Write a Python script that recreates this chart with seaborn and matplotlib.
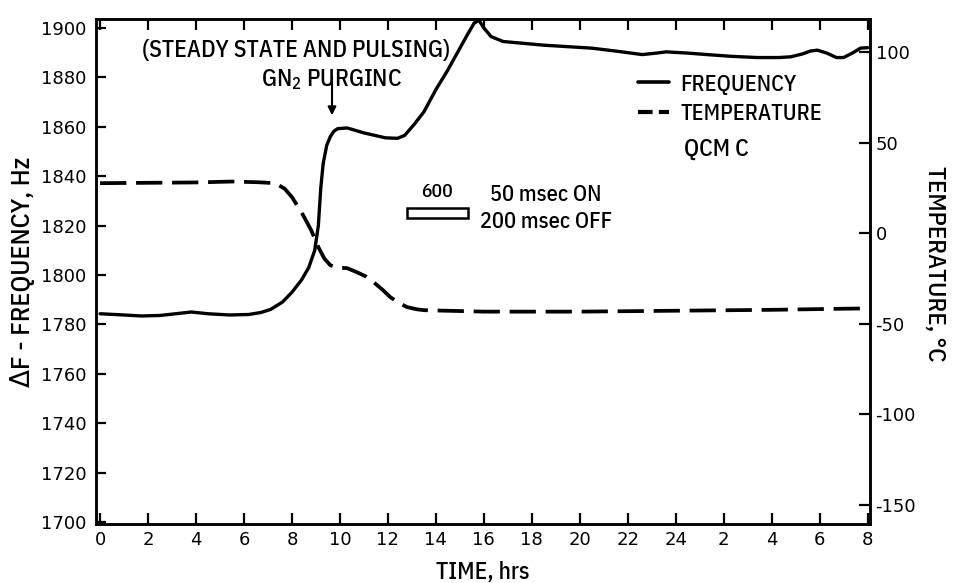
import matplotlib
matplotlib.use("Agg")
import matplotlib.pyplot as plt
from matplotlib.lines import Line2D
from matplotlib.patches import Rectangle
import seaborn as sns
import pandas as pd

# frequency trace (left axis, Hz)
time_freq = [0, 1, 1.7, 2.5, 3.8, 4.5, 5.4, 6.2, 6.7, 7.1, 7.6, 8.0, 8.4, 8.7,
             8.95, 9.1, 9.2, 9.3, 9.45, 9.6, 9.75, 9.9, 10.3, 11.0, 11.9, 12.4,
             12.7, 13.1, 13.5, 14.0, 14.5, 14.9, 15.3, 15.6, 15.8, 16.0, 16.3,
             16.8, 18.5, 20.5, 21.6, 22.6, 23.2, 23.6, 24.5, 25.3, 26.3, 27.4,
             28.3, 28.8, 29.3, 29.6, 29.9, 30.3, 30.7, 31.0, 31.4, 31.7, 32.0]
freq_hz = [1784.3, 1783.8, 1783.4, 1783.6, 1785.0, 1784.3, 1783.8, 1784.0,
           1784.8, 1786.0, 1789.0, 1793.0, 1798.0, 1803.0, 1810.0, 1820.0,
           1835.0, 1845.0, 1852.5, 1856.0, 1858.2, 1859.2, 1859.5, 1857.5,
           1855.5, 1855.3, 1856.5, 1861.0, 1866.0, 1875.0, 1883.0, 1890.0,
           1897.0, 1902.0, 1903.0, 1900.0, 1896.5, 1894.5, 1893.0, 1891.8,
           1890.5, 1889.2, 1889.8, 1890.3, 1889.8, 1889.2, 1888.5, 1888.0,
           1888.0, 1888.3, 1889.5, 1890.6, 1891.0, 1889.8, 1888.0, 1888.0,
           1890.0, 1891.8, 1892.0]

# temperature trace (right axis, deg C)
time_temp = [0, 2, 4, 5.5, 6.6, 7.3, 7.7, 8.0, 8.4, 8.8, 9.1, 9.35, 9.6, 9.9,
             10.3, 10.7, 11.1, 11.4, 11.8, 12.1, 12.5, 12.8, 13.2, 13.5, 16,
             20, 24, 28, 32]
temp_c = [27.6, 27.8, 28.0, 28.5, 28.1, 27.6, 24.5, 19.9, 11.5, 1.7, -7.7,
          -14.0, -17.7, -19.0, -19.3, -21.5, -24.0, -27.0, -31.5, -35.3,
          -38.8, -40.8, -42.0, -42.5, -43.3, -43.3, -42.8, -42.3, -41.5]

x_ticks = list(range(0, 33, 2))
x_tick_labels = ["0", "2", "4", "6", "8", "10", "12", "14", "16", "18", "20",
                 "22", "24", "2", "4", "6", "8"]
freq_ticks = [1700, 1720, 1740, 1760, 1780, 1800, 1820, 1840, 1860, 1880, 1900]
temp_ticks = [-150, -100, -50, 0, 50, 100]
temp_tick_labels = ["-150", "-100", "-50", "0", "50", "100"]

df_freq = pd.DataFrame({"time": time_freq, "freq": freq_hz})
df_temp = pd.DataFrame({"time": time_temp, "temp": temp_c})

sns.set_style("white")
plt.rcParams['font.family'] = ['IBM Plex Sans Condensed', 'DejaVu Sans']
plt.rcParams['font.weight'] = 500
plt.rcParams['axes.labelweight'] = 500
plt.rcParams['text.color'] = 'black'
plt.rcParams['axes.labelcolor'] = 'black'
plt.rcParams['xtick.color'] = 'black'
plt.rcParams['ytick.color'] = 'black'
plt.rcParams['mathtext.default'] = 'regular'

fig = plt.figure(figsize=(9.6, 5.83), dpi=100)
ax = fig.add_axes([96 / 960, 59 / 583, (870 - 96) / 960, (524 - 19) / 583])
ax2 = ax.twinx()

sns.lineplot(data=df_freq, x="time", y="freq", ax=ax, color="black",
             lw=2.4, estimator=None, sort=False)
sns.lineplot(data=df_temp, x="time", y="temp", ax=ax2, color="black",
             lw=2.7, estimator=None, sort=False)
ax2.lines[0].set_dashes([7, 2.6])

ax.set_xlim(-0.17, 32.1)
ax.set_ylim(1699.2, 1903.6)
ax2.set_ylim(-160.5, 118.2)

ax.set_xticks(x_ticks)
ax.set_xticklabels(x_tick_labels)
ax.set_yticks(freq_ticks)
ax2.set_yticks(temp_ticks)
ax2.set_yticklabels(temp_tick_labels)

for a in (ax, ax2):
    for s in a.spines.values():
        s.set_visible(True)
        s.set_linewidth(1.8)
        s.set_color("black")

ax.tick_params(axis="x", direction="in", length=8, width=1.6, top=True,
               bottom=True, pad=5, labelsize=13)
ax.tick_params(axis="y", direction="in", length=7, width=1.6, pad=7,
               labelsize=13)
ax2.tick_params(axis="y", direction="in", length=8, width=1.6, pad=4,
                labelsize=13)
for lab in ax.get_xticklabels() + ax.get_yticklabels() + ax2.get_yticklabels():
    lab.set_fontfamily("DejaVu Sans")
    lab.set_fontweight("normal")

ax.set_xlabel("TIME, hrs", fontsize=17, labelpad=9)
ax.set_ylabel("ΔF - FREQUENCY, Hz", fontsize=19, labelpad=4)
ax2.set_ylabel("TEMPERATURE, °C", fontsize=18, rotation=270, va="bottom",
               labelpad=5)
ax2.yaxis.label.set_y(0.515)

# annotations
ax.text(8.17, 1890.7, "(STEADY STATE AND PULSING)", fontsize=17,
        ha="center", va="center")
ax.text(9.67, 1879, "GN$_2$ PURGINC", fontsize=17, ha="center", va="center")
ax.annotate("", xy=(9.67, 1863.5), xytext=(9.67, 1881.5),
            arrowprops=dict(arrowstyle="-|>", color="black", lw=1.5,
                            mutation_scale=12))
ax.text(14.05, 1833.6, "600", fontsize=14, ha="center", va="center")
ax.add_patch(Rectangle((12.78, 1823.1), 2.57, 4.0, fill=False,
                       edgecolor="black", lw=1.8))
ax.text(16.27, 1832.4, "50 msec ON", fontsize=16, ha="left", va="center")
ax.text(15.85, 1821.5, "200 msec OFF", fontsize=16, ha="left", va="center")
ax.text(24.36, 1851, "QCM C", fontsize=17, ha="left", va="center")

handles = [Line2D([], [], color="black", lw=2.6),
           Line2D([], [], color="black", lw=3.0, dashes=[3.5, 1.5])]
ax.legend(handles, ["FREQUENCY", "TEMPERATURE"], loc="upper left",
          bbox_to_anchor=(638 / 960, 1 - 73 / 583),
          bbox_transform=fig.transFigure, frameon=False, fontsize=16,
          handlelength=1.4, handletextpad=0.5, labelspacing=0.35,
          borderpad=0, borderaxespad=0)

fig.savefig("out.png", dpi=100)
